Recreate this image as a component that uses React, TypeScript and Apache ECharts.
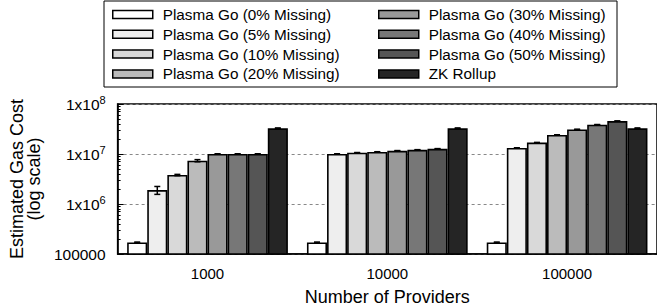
import React, { useEffect, useRef } from "react";
import * as echarts from "echarts";

const categories = ["1000", "10000", "100000"];
const seriesNames = [
  "Plasma Go (0% Missing)",
  "Plasma Go (5% Missing)",
  "Plasma Go (10% Missing)",
  "Plasma Go (20% Missing)",
  "Plasma Go (30% Missing)",
  "Plasma Go (40% Missing)",
  "Plasma Go (50% Missing)",
  "ZK Rollup",
];
const seriesColors = ["#ffffff", "#eeeeee", "#d9d9d9", "#bbbbbb", "#999999", "#777777", "#555555", "#252525"];

const missing0 = [170000, 170000, 170000];
const missing5 = [1900000, 10000000, 13200000];
const missing10 = [3800000, 10600000, 16900000];
const missing20 = [7350000, 11000000, 24000000];
const missing30 = [10000000, 11600000, 31000000];
const missing40 = [10000000, 12100000, 38500000];
const missing50 = [10000000, 12700000, 45500000];
const zkRollup = [32600000, 32600000, 32600000];
const seriesValues = [missing0, missing5, missing10, missing20, missing30, missing40, missing50, zkRollup];

// error bar half-widths (relative), read from the caps
const errRel0 = [0.02, 0.02, 0.02];
const errRel5 = [0.18, 0.01, 0.01];
const errRel10 = [0.03, 0.01, 0.01];
const errRel20 = [0.05, 0.01, 0.01];
const errRel30 = [0.01, 0.01, 0.01];
const errRel40 = [0.01, 0.01, 0.01];
const errRel50 = [0.01, 0.01, 0.01];
const errRelZk = [0.02, 0.02, 0.02];
const errRels = [errRel0, errRel5, errRel10, errRel20, errRel30, errRel40, errRel50, errRelZk];

const minorTicks: number[] = [];
for (let d = 1e5; d < 1e8; d *= 10) {
  for (let k = 2; k <= 9; k++) minorTicks.push(d * k);
}

const FONT = "'Liberation Sans', Arial, Helvetica, sans-serif";
const CAT_GAP = 0.106;

export default function App() {
  const ref = useRef<HTMLDivElement>(null);
  useEffect(() => {
    document.body.style.margin = "0";
    document.body.style.overflow = "hidden";
    const chart = echarts.init(ref.current!, undefined, { renderer: "svg" });
    const n = seriesNames.length;

    const barSeries: any[] = seriesNames.map((name, i) => ({
      name,
      type: "bar",
      data: seriesValues[i],
      barGap: "0%",
      barCategoryGap: CAT_GAP * 100 + "%",
      itemStyle: { color: seriesColors[i], borderColor: "#000", borderWidth: 1.6 },
      z: 2,
    }));

    const errSeries: any[] = seriesNames.map((name, i) => ({
      name: name + " err",
      type: "custom",
      z: 5,
      data: seriesValues[i].map((v, c) => [c, v * (1 - errRels[i][c]), v * (1 + errRels[i][c])]),
      renderItem: (params: any, api: any) => {
        const c = api.value(0);
        const lo = api.value(1);
        const hi = api.value(2);
        const pHi = api.coord([c, hi]);
        const pLo = api.coord([c, lo]);
        const band = api.coord([1, hi])[0] - api.coord([0, hi])[0];
        const bw = (band * (1 - CAT_GAP)) / n;
        const x = pHi[0] - (band * (1 - CAT_GAP)) / 2 + bw * (i + 0.5);
        const cap = 3;
        const style = { stroke: "#000", lineWidth: 1.5 };
        return {
          type: "group",
          children: [
            { type: "line", shape: { x1: x, y1: pLo[1], x2: x, y2: pHi[1] }, style },
            { type: "line", shape: { x1: x - cap, y1: pLo[1], x2: x + cap, y2: pLo[1] }, style },
            { type: "line", shape: { x1: x - cap, y1: pHi[1], x2: x + cap, y2: pHi[1] }, style },
          ],
        };
      },
    }));

    const legendCommon = {
      orient: "vertical",
      icon: "rect",
      itemWidth: 40,
      itemHeight: 8,
      itemGap: 4.8,
      padding: 0,
      top: 7,
      selectedMode: false,
      itemStyle: { borderColor: "#000", borderWidth: 1.5 },
      textStyle: { fontSize: 15.3, color: "#000", fontFamily: FONT, padding: [0, 0, 0, 5] },
    };

    chart.setOption({
      animation: false,
      backgroundColor: "#fff",
      legend: [
        { ...legendCommon, left: 112, data: seriesNames.slice(0, 4) },
        { ...legendCommon, left: 378, data: seriesNames.slice(4) },
      ],
      graphic: [
        {
          type: "rect",
          shape: { x: 104, y: 1, width: 513, height: 86 },
          style: { fill: "none", stroke: "#000", lineWidth: 1 },
          z: 0,
        },
      ],
      grid: {
        left: 114,
        right: -3,
        top: 104,
        bottom: 53,
        show: true,
        borderColor: "#000",
        borderWidth: 1.5,
        backgroundColor: "transparent",
      },
      xAxis: {
        type: "category",
        data: categories,
        name: "Number of Providers",
        nameLocation: "middle",
        nameGap: 34,
        nameTextStyle: { fontSize: 18, color: "#000", fontFamily: FONT },
        axisLine: { show: true, lineStyle: { color: "#000", width: 1.5 } },
        axisTick: { show: false },
        axisLabel: { fontSize: 15, color: "#000", fontFamily: FONT, margin: 12 },
        splitLine: { show: false },
      },
      yAxis: [
        {
          type: "log",
          logBase: 10,
          min: 1e5,
          max: 1e8,
          name: "Estimated Gas Cost\n(log scale)",
          nameLocation: "middle",
          nameGap: 70,
          nameTextStyle: { fontSize: 18, color: "#000", fontFamily: FONT, lineHeight: 17 },
          axisLine: { show: true, lineStyle: { color: "#000", width: 1.5 } },
          axisTick: { show: true, inside: true, length: 6, lineStyle: { color: "#000", width: 1 } },
          axisLabel: {
            margin: 12,
            formatter: (v: number) => {
              if (Math.abs(v - 1e5) < 1) return "{b|100000}";
              const e = Math.round(Math.log10(v));
              return "{b|1x10}{s|" + e + "}";
            },
            rich: {
              b: { fontSize: 15.5, color: "#000", fontFamily: FONT },
              s: { fontSize: 11, color: "#000", fontFamily: FONT, verticalAlign: "top", padding: [0, 0, 9, 0] },
            },
          },
          splitLine: { show: true, lineStyle: { color: "#888", type: [3, 3], width: 1 } },
        },
        {
          type: "log",
          logBase: 10,
          min: 1e5,
          max: 1e8,
          position: "left",
          axisLine: { show: false },
          axisTick: { show: true, inside: true, length: 3, customValues: minorTicks, lineStyle: { color: "#000", width: 1 } },
          axisLabel: { show: false },
          splitLine: { show: false },
        },
      ],
      series: [...barSeries, ...errSeries],
    });
    return () => chart.dispose();
  }, []);
  return <div ref={ref} style={{ width: 657, height: 307 }} />;
}
